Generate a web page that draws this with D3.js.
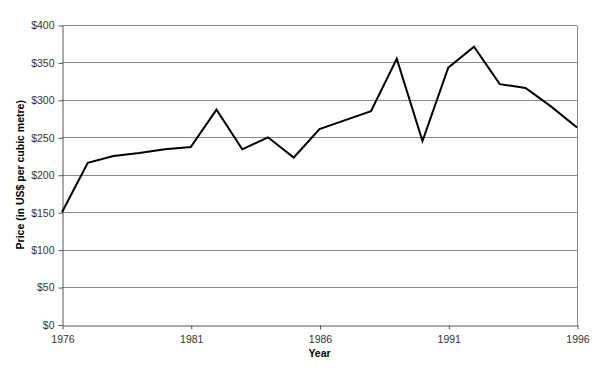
<!DOCTYPE html>
<html><head><meta charset="utf-8">
<script src="https://cdn.jsdelivr.net/npm/d3@7"></script>
<style>body{margin:0;background:#fff}svg{display:block}</style>
</head><body>
<svg id="c" width="600" height="368"></svg>
<script>
const years = [1976,1977,1978,1979,1980,1981,1982,1983,1984,1985,1986,1987,1988,1989,1990,1991,1992,1993,1994,1995,1996];
const prices = [150,216,225,229,234,237,287,234,250,223,261,273,285,355,245,343,371,321,316,291,263];
const yTicks = [0,50,100,150,200,250,300,350,400];
const xTicks = [1976,1981,1986,1991,1996];

const svg = d3.select("#c");
const L=62, R=577, T=25, B=324.5;
const x = d3.scaleLinear().domain([1976,1996]).range([L,R]);
const y = d3.scaleLinear().domain([0,400]).range([B,T]);

// gridlines
svg.append("g").selectAll("line").data(yTicks.filter(d=>d>0)).join("line")
  .attr("x1",L).attr("x2",R).attr("y1",d=>Math.round(y(d))+0.5).attr("y2",d=>Math.round(y(d))+0.5)
  .attr("stroke","#888").attr("stroke-width",1);
// right border
svg.append("line").attr("x1",R+0.5).attr("x2",R+0.5).attr("y1",Math.round(T)+0.5).attr("y2",Math.round(B)+0.5)
  .attr("stroke","#888");

// y axis
const ya = svg.append("g").attr("transform",`translate(${L+0.5},0.5)`)
  .call(d3.axisLeft(y).tickValues(yTicks).tickFormat(d=>"$"+d).tickSize(4).tickSizeOuter(0));
// x axis
const xa = svg.append("g").attr("transform",`translate(0.5,${Math.round(B)+0.5})`)
  .call(d3.axisBottom(x).tickValues(xTicks).tickFormat(d3.format("d")).tickSize(4).tickSizeOuter(0));
[ya,xa].forEach(a=>{
  a.select(".domain").attr("stroke","#555");
  a.selectAll(".tick line").attr("stroke","#555");
  a.selectAll("text").attr("font-family","Arial, 'Liberation Sans', sans-serif").attr("font-size",10.5).attr("fill","#333");
});
ya.selectAll("text").attr("x",-8);
xa.selectAll("text").attr("y",10);

// line
svg.append("path").datum(years.map((yr,i)=>[yr,prices[i]]))
  .attr("d",d3.line().x(d=>x(d[0])).y(d=>y(d[1])))
  .attr("fill","none").attr("stroke","#000").attr("stroke-width",2).attr("stroke-linejoin","miter");

// titles
svg.append("text").attr("x",(L+R)/2).attr("y",357).attr("text-anchor","middle")
  .attr("font-family","Arial, 'Liberation Sans', sans-serif").attr("font-size",10.5).attr("font-weight","bold").text("Year");
svg.append("text").attr("transform",`translate(24,${(T+B)/2}) rotate(-90)`).attr("text-anchor","middle")
  .attr("font-family","Arial, 'Liberation Sans', sans-serif").attr("font-size",10.5).attr("font-weight","bold")
  .text("Price (in US$ per cubic metre)");
</script>
</body></html>
